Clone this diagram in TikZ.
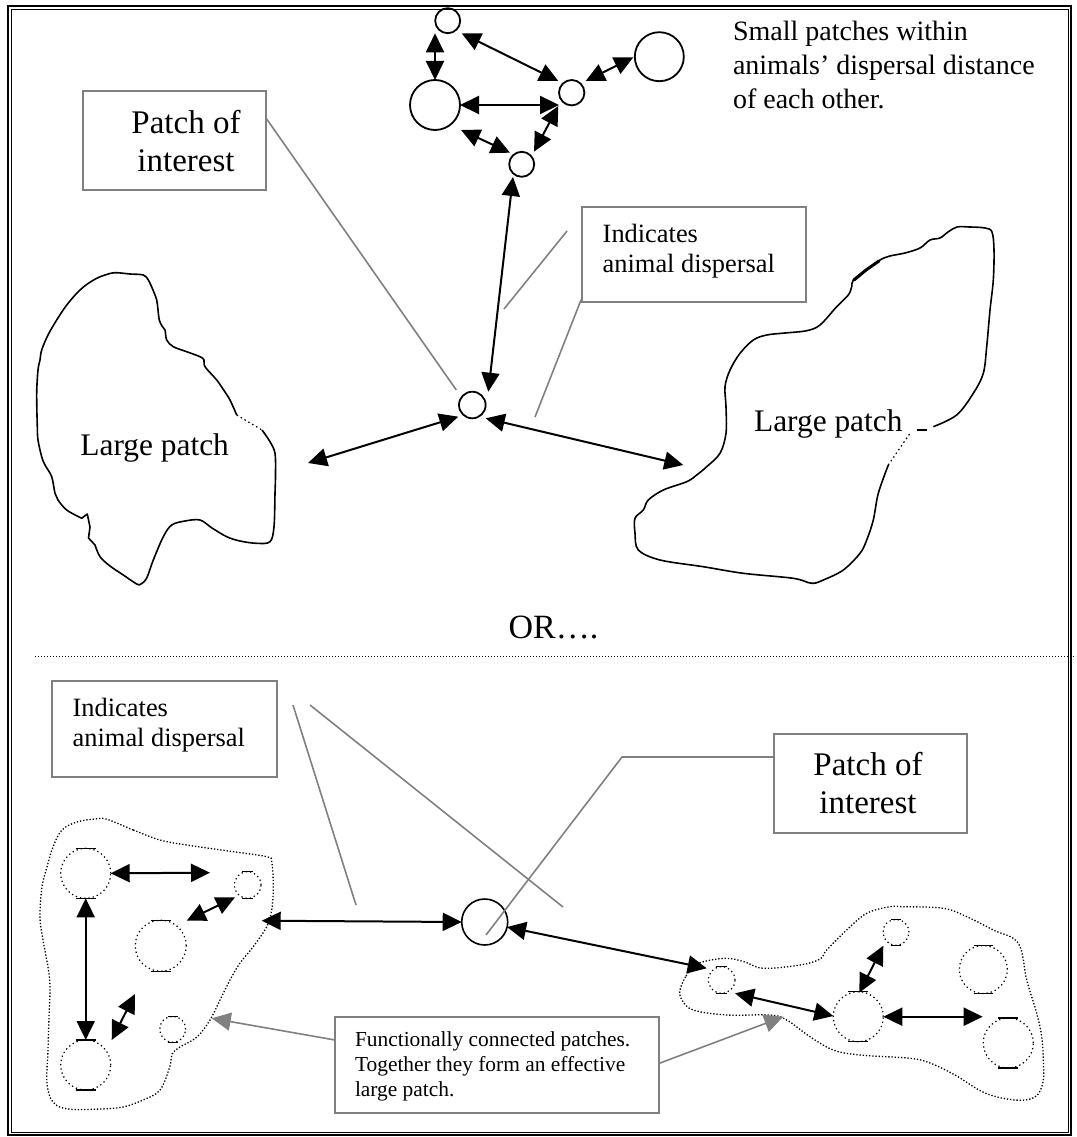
\documentclass[tikz,border=0pt]{standalone}
\usepackage{fontspec}
\setmainfont{Liberation Serif}
\usetikzlibrary{arrows.meta}
\definecolor{cgray}{RGB}{128,128,128}
\begin{document}
\begin{tikzpicture}[x=1pt,y=-1pt,
  patchc/.style={circle,draw,line width=1.8pt,inner sep=0pt,outer sep=0pt},
  dotc/.style={circle,draw,line width=1.2pt,dash pattern=on 1.3pt off 3pt,inner sep=0pt,outer sep=0pt},
  dbl/.style={line width=2pt,{Triangle[length=19pt,width=18pt]}-{Triangle[length=19pt,width=18pt]}},
  callout/.style={draw=cgray,line width=1.6pt},
  garrow/.style={draw=cgray,line width=1.6pt,-{Triangle[length=19pt,width=18pt]}},
  gbox/.style={rectangle,draw=cgray,line width=1.8pt,inner sep=0pt,outer sep=0pt},
  outline/.style={line width=1.6pt,line join=round},
  dotline/.style={line width=1.3pt,dash pattern=on 1.3pt off 1.9pt},
  txt/.style={inner sep=0pt,outer sep=0pt,text=black}
]
\useasboundingbox (0,0) rectangle (1076,1137);
% frame
\draw[line width=2pt] (8,6) rectangle (1071,1135);
\draw[line width=0.9pt] (11,9.3) rectangle (1068,1132.5);

% ---------------- top part ----------------
% left large patch
\draw[outline] plot[smooth,tension=0.55] coordinates {(262,430) (270,441.7) (275,453.3) (275.5,475) (275,493.3) (274,526.7) (270,541.7) (256.7,543.3) (240,541) (226.7,536.7) (212,528) (200,520) (185,521) (171.7,525) (163.3,536.7) (153.3,560) (146.7,578) (141,584) (136.7,584) (123.3,575) (110,566) (100,556.7) (95,545)}
  -- (88.5,538) -- (90,527) -- (87.3,514) -- (81.7,518.3)
  -- plot[smooth,tension=0.55] coordinates {(81.7,518.3) (66.7,510) (58,500) (55,493.3) (51.7,476.7) (45,465) (41.7,456.7) (38,440) (37.3,426.7) (36.7,393.3) (38,370) (40,360) (41.7,350) (48,335) (56.7,320) (66,306) (76.7,293.3) (86,285) (96.7,278.3) (105,275) (115,272.7) (130,274) (143.3,275) (148.3,280) (153,290) (156.7,300) (158,310) (159.3,320) (162,326) (165,330) (166.7,340) (173.3,346.7) (186.7,351.7) (200,356.7) (204,360) (205,366.7) (216.7,380) (225,392) (230,400) (236.7,415)};
\draw[line width=1.2pt,dash pattern=on 1.5pt off 3pt] (236.7,415) -- (262,430);
\node[txt,anchor=base,font={\fontsize{31.4}{36}\selectfont}] (lpL) at (154.7,455) {Large patch};

% right large patch
\draw[outline] plot[smooth,tension=0.55] coordinates {(933.3,426.7) (956.7,415) (973.3,393.3) (983.3,373.3) (986.7,346.7) (990,310) (993.3,280) (994,250) (992,232) (985,228) (970,227) (957,227) (948,232) (940,238) (930,240) (920,248) (905,253) (890,256) (880,260) (866,270) (853.3,280) (851.7,286.7) (848.3,295) (836.7,306.7) (820,325) (806.7,330.7) (785,333) (766.7,335) (753.3,340) (740,353.3) (730,370) (725,386.7) (726,406.7) (726,433.3) (720,453.3) (706.7,466.7) (696.7,475) (686.7,481.7) (663.3,490) (648.3,500) (643.3,510) (635,518.3) (635,533.3) (638.3,550) (660,560) (703.3,566.7) (743.3,573.3) (793.3,578.3) (811.7,583.3) (823.3,580) (843.3,570) (860,553.3) (866.7,540) (873.3,520) (878.3,493.3) (888.3,465)};
\draw[line width=1.2pt,dash pattern=on 1.5pt off 3pt] (888.3,465) -- (910,433.3);
\draw[line width=1.4pt] (916.7,430) -- (926.7,430);
\draw[line width=3pt,line cap=round] (854,280) -- (866,270) -- (879,261);
\node[txt,anchor=base,font={\fontsize{31.4}{36}\selectfont}] (lpR) at (828.3,431.7) {Large patch};

% small patch circles
\node[patchc,minimum size=25pt] (A) at (447.7,20.7) {};
\node[patchc,minimum size=50pt] (B) at (435,105) {};
\node[patchc,minimum size=25.4pt] (C) at (571.7,92.7) {};
\node[patchc,minimum size=49pt] (D) at (659.3,56.7) {};
\node[patchc,minimum size=25pt] (E) at (521.7,164.3) {};
\node[patchc,minimum size=26.6pt] (P) at (472.3,405) {};

\coordinate (pl) at (308,463);
\coordinate (pr) at (683.3,465);

\draw[dbl] ([shift={(-12.7,12.6)}]A.center) -- ([shift={(0,-25)}]B.center);
\draw[dbl] ([shift={(14,12.6)}]A.center) -- ([shift={(-13.4,-11.7)}]C.center);
\draw[dbl] ([shift={(-26,0.6)}]D.center) -- ([shift={(14,-11.7)}]C.center);
\draw[dbl] ([shift={(25,0)}]B.center) -- ([shift={(-12.7,12.3)}]C.center);
\draw[dbl] ([shift={(26,25)}]B.center) -- ([shift={(-11.7,-11.6)}]E.center);
\draw[dbl] ([shift={(12.3,-12.6)}]E.center) -- ([shift={(-13.4,13.3)}]C.center);
\draw[dbl] ([shift={(-8.7,12.7)}]E.center) -- ([shift={(16,-13.3)}]P.center);
\draw[dbl] (pl) -- ([shift={(-14,11.7)}]P.center);
\draw[dbl] ([shift={(13.4,13.3)}]P.center) -- (pr);

% text top right
\node[txt,anchor=north west,align=left,font={\fontsize{28}{34}\selectfont}] (smalltxt) at (733,20.9) {Small patches within\\animals’ dispersal distance\\of each other.};

% top boxes
\node[gbox,minimum width=183pt,minimum height=99pt,anchor=north west] (poiT) at (83,91) {};
\node[txt,anchor=north,align=center,font={\fontsize{33}{38}\selectfont}] (poiTt) at (186,110) {Patch of\\interest};
\node[gbox,minimum width=224pt,minimum height=95pt,anchor=north west] (indT) at (582,207) {};
\node[txt,anchor=north west,align=left,font={\fontsize{26.4}{30.4}\selectfont}] (indTt) at (602.7,223.7) {Indicates\\animal dispersal};

\draw[callout] ([shift={(0,27)}]poiT.north east) -- ([shift={(-16,-15)}]P.center);
\draw[callout] ([shift={(-15,24)}]indT.north west) -- (504,309);
\draw[callout] ([shift={(-1,-2)}]indT.south west) -- (535,417);

% OR
\node[txt,anchor=base,font={\fontsize{34}{40}\selectfont}] (ortxt) at (553.5,638) {OR….};
\draw[line width=1pt,dash pattern=on 1pt off 2pt] (35,656.7) -- (1076,656.7);

% ---------------- bottom part ----------------
% left cluster outline
\draw[dotline] plot[smooth cycle,tension=0.6] coordinates {(107,819.3) (133.3,830) (160,840) (186.7,845) (233.3,851.7) (266.7,856.7) (271.7,862) (273.3,886.7) (271.7,910) (266.7,926.7) (253,947) (240,963) (230,980) (220,1000) (210,1020) (197,1037) (180,1047) (172,1054) (170,1066) (160,1090) (143,1100) (123,1107) (100,1109) (68,1109) (53,1102) (47,1083) (48,1050) (49,1017) (50,987) (48,967) (43,940) (40,917) (42,887) (47,867) (53,847) (62,830) (77,822) (95,819)};
% right cluster outline
\draw[dotline] plot[smooth cycle,tension=0.6] coordinates {(680,990) (686,976) (693,967) (703.3,961.7) (726.7,958.3) (745,962) (763.3,968.3) (800,965) (820,959) (826.7,950) (846.7,930) (866.7,913.3) (890,906.7) (903.3,906.7) (943.3,908.3) (966.7,916.7) (993.3,930) (1018.3,943.3) (1026.7,980) (1036.7,1013.3) (1041.7,1036.7) (1043.3,1060) (1043,1082) (1035,1097) (1015,1100) (985,1093) (955,1075) (930,1063) (910,1058.3) (860,1055) (833.3,1050) (810,1036.7) (786.7,1020) (770,1015) (726.7,1015) (693.3,1010) (682,1000)};

% dotted circles
\node[dotc,minimum size=50pt] (C1) at (85.7,873.3) {};
\node[dotc,minimum size=26.6pt] (C2) at (247.7,885) {};
\node[dotc,minimum size=51pt] (C3) at (160.7,945.7) {};
\node[dotc,minimum size=26pt] (C4) at (172.7,1029.3) {};
\node[dotc,minimum size=50pt] (C5) at (85.7,1065) {};
\node[dotc,minimum size=26.6pt] (R1) at (721.7,980) {};
\node[dotc,minimum size=26pt] (R2) at (896,932.3) {};
\node[dotc,minimum size=48pt] (R3) at (983.3,969.5) {};
\node[dotc,minimum size=50pt] (R4) at (858.3,1016.7) {};
\node[dotc,minimum size=50pt] (R5) at (1008.3,1043) {};
\foreach \n/\r in {C1/25,C2/13.3,C3/25.5,C4/13,C5/25,R1/13.3,R2/13,R3/24,R4/25,R5/25}{
  \draw[line width=1.2pt] ([shift={(-0.4*\r,0)}]\n.north) -- ([shift={(0.4*\r,0)}]\n.north);
  \draw[line width=1.2pt] ([shift={(-0.4*\r,0)}]\n.south) -- ([shift={(0.4*\r,0)}]\n.south);
}

% patch of interest (bottom)
\node[circle,draw,line width=1.6pt,inner sep=0pt,outer sep=0pt,minimum size=46pt] (P2) at (484.7,922) {};

% arrows bottom
\coordinate (c1e) at (210,872.7);
\coordinate (c45) at (135,994);
\coordinate (lcl) at (261.7,920.7);
\draw[dbl] (C1.east) -- (c1e);
\draw[dbl] (C1.south) -- (C5.north);
\draw[dbl] ([shift={(-12.7,12.3)}]C2.center) -- ([shift={(26,-25)}]C3.center);
\draw[dbl] (c45) -- ([shift={(26,-25)}]C5.center);
\draw[dbl] (lcl) -- (P2.west);
\draw[dbl] ([shift={(22.3,5)}]P2.center) -- ([shift={(-15,-11.7)}]R1.center);
\draw[dbl] ([shift={(13.3,13.3)}]R1.center) -- ([shift={(-25,-0.7)}]R4.center);
\draw[dbl] ([shift={(-12.7,13.4)}]R2.center) -- ([shift={(1,-24)}]R4.center);
\draw[dbl] (R4.east) -- ([shift={(-25.6,-26.3)}]R5.center);

% bottom boxes
\node[gbox,minimum width=225pt,minimum height=95.7pt,anchor=north west] (indB) at (51.7,681) {};
\node[txt,anchor=north west,align=left,font={\fontsize{26.4}{30.4}\selectfont}] (indBt) at (72.7,697.7) {Indicates\\animal dispersal};
\node[gbox,minimum width=193pt,minimum height=99pt,anchor=north west] (poiB) at (774,734) {};
\node[txt,anchor=north,align=center,font={\fontsize{33}{38}\selectfont}] (poiBt) at (868,752) {Patch of\\interest};
\node[gbox,minimum width=324.3pt,minimum height=95.4pt,anchor=north west] (fun) at (335,1017.3) {};
\node[txt,anchor=north west,align=left,font={\fontsize{21.4}{24.6}\selectfont}] (funt) at (355,1032.1) {Functionally connected patches.\\Together they form an effective\\large patch.};

\coordinate (ib1) at (356,905);
\coordinate (ib2) at (563,907);
\coordinate (pb1) at (622,757);
\coordinate (gl) at (211.7,1018.3);
\coordinate (gr) at (783.3,1016.7);
\draw[callout] ([shift={(16.3,24)}]indB.north east) -- (ib1);
\draw[callout] ([shift={(33.3,24)}]indB.north east) -- (ib2);
\draw[callout] ([shift={(0,23)}]poiB.north west) -- (pb1) -- ([shift={(1.3,13)}]P2.center);
\draw[garrow] ([shift={(0,22.7)}]fun.north west) -- (gl);
\draw[garrow] ([shift={(0,46)}]fun.north east) -- (gr);
\end{tikzpicture}
\end{document}
